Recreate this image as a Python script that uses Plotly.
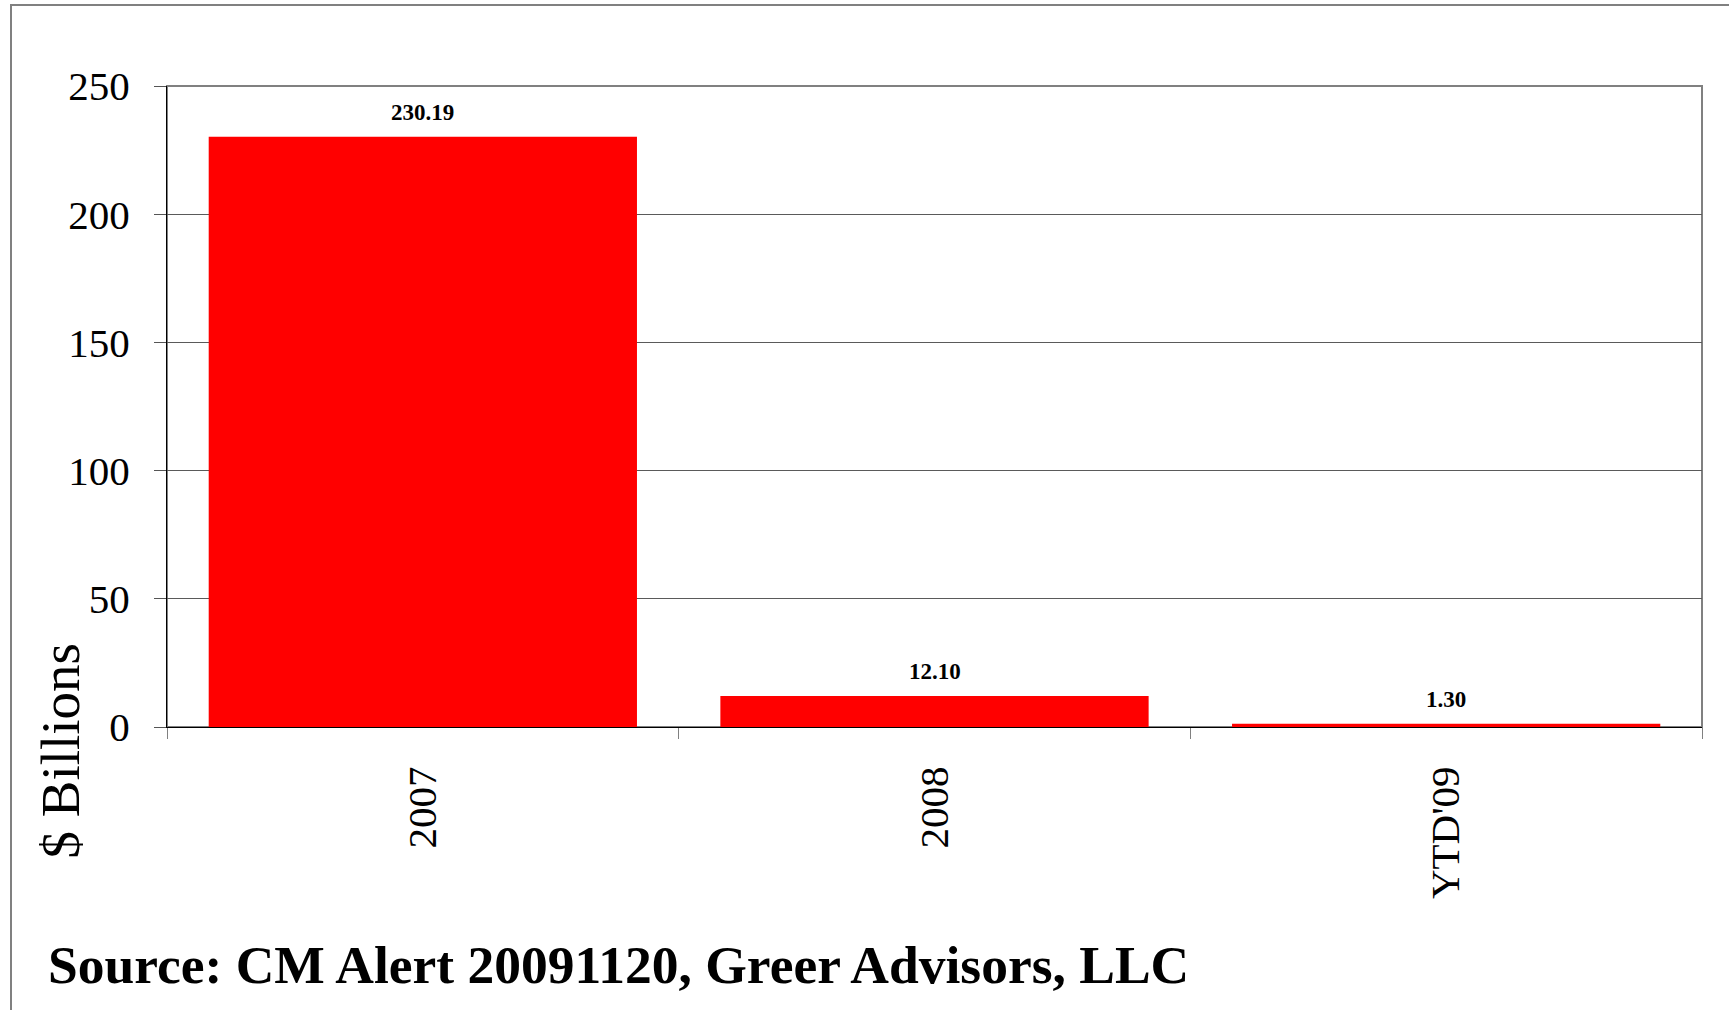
import plotly.graph_objects as go

# Data
categories = ["2007", "2008", "YTD'09"]
values = [230.19, 12.10, 1.30]
y_ticks = [0, 50, 100, 150, 200, 250]

SERIF = "Liberation Serif, Times New Roman, serif"

W, H = 1729, 1010
ML, MR, MT, MB = 167, 27, 86, 282.5
PW = W - ML - MR
PH = H - MT - MB


def px_x(p):
    return (p - ML) / PW


def px_y(p):
    return (H - MB - p) / PH


fig = go.Figure()

fig.add_trace(go.Bar(
    x=categories,
    y=values,
    marker=dict(color="#ff0000", line=dict(width=0)),
    hoverinfo="x+y",
))

# value labels above each bar (category index as position)
for i, v in enumerate(values):
    fig.add_annotation(
        x=i, y=v, xref="x", yref="y",
        text=f"<b>{v:.2f}</b>",
        showarrow=False, yanchor="middle", yshift=24,
        font=dict(family=SERIF, size=23, color="#000000"),
    )

# y-axis title
fig.add_annotation(
    x=px_x(60), y=px_y(752), xref="paper", yref="paper",
    text="$ Billions", textangle=-90, showarrow=False,
    xanchor="center", yanchor="middle",
    font=dict(family=SERIF, size=55, color="#000000"),
)

# source line
fig.add_annotation(
    x=px_x(46), y=px_y(966), xref="paper", yref="paper",
    text="<b>Source: CM Alert 20091120, Greer Advisors, LLC</b>",
    showarrow=False, xanchor="left", yanchor="middle",
    font=dict(family=SERIF, size=53.5, color="#000000"),
)

# plot-area border
fig.add_shape(
    type="rect", xref="paper", yref="paper", x0=0, x1=1, y0=0, y1=1,
    line=dict(color="#808080", width=2), layer="below",
)
# outer frame
fig.add_shape(
    type="rect", xref="paper", yref="paper",
    x0=px_x(11), x1=px_x(1760), y0=px_y(1040), y1=px_y(5),
    line=dict(color="#808080", width=2), layer="below",
)

fig.update_layout(
    width=W, height=H, autosize=False,
    margin=dict(l=ML, r=MR, t=MT, b=MB, pad=0),
    paper_bgcolor="#ffffff", plot_bgcolor="#ffffff",
    showlegend=False, bargap=0.163,
    font=dict(family=SERIF, color="#000000"),
)

fig.update_xaxes(
    type="category", range=[-0.5, len(categories) - 0.5],
    showgrid=False, zeroline=False,
    showline=True, linecolor="#000000", linewidth=1,
    ticks="outside", ticklen=11, tickcolor="#808080", tickwidth=1,
    tickson="boundaries", tickangle=-90, ticklabelstandoff=22,
    tickfont=dict(family=SERIF, size=41, color="#000000"),
)

fig.update_yaxes(
    range=[0, 250], tickvals=y_ticks, ticktext=[str(t) for t in y_ticks],
    showgrid=True, gridcolor="#5a5a5a", gridwidth=1, zeroline=False,
    showline=True, linecolor="#000000", linewidth=1,
    ticks="outside", ticklen=12, tickcolor="#555555", tickwidth=1,
    ticklabelstandoff=16,
    tickfont=dict(family=SERIF, size=41, color="#000000"),
)

fig.write_html("out.html")
